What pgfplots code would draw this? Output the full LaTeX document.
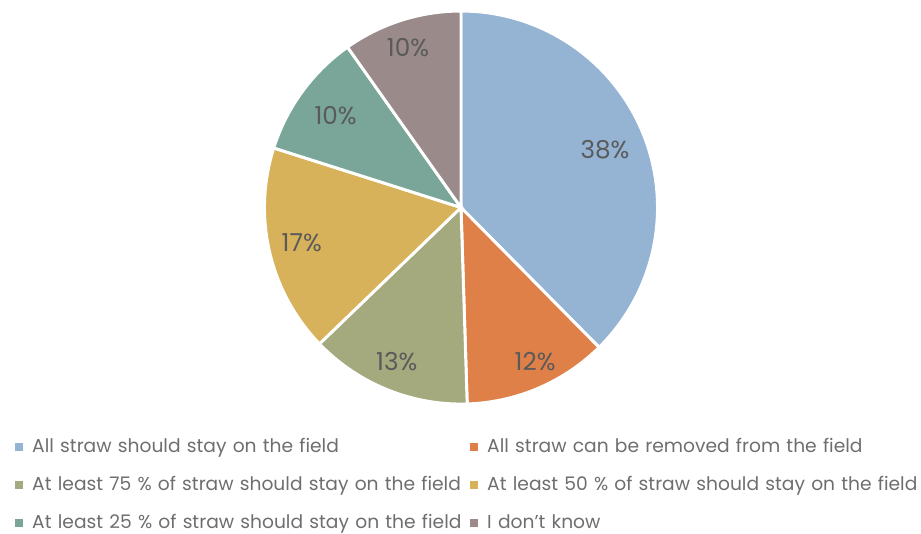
\documentclass[border=0pt]{standalone}
\usepackage{fontspec}
\setmainfont{Poppins}
\usepackage{pgfplots}
\pgfplotsset{compat=1.18}
\usepgfplotslibrary{polar}
\definecolor{cA}{HTML}{95B3D3}
\definecolor{cB}{HTML}{DF8049}
\definecolor{cC}{HTML}{A4AA7E}
\definecolor{cD}{HTML}{D8B25B}
\definecolor{cE}{HTML}{79A699}
\definecolor{cF}{HTML}{9A8B8A}
\definecolor{legtext}{HTML}{6E6E6E}
\definecolor{labtext}{HTML}{5A5A5A}
% shares in percent, clockwise from the top
\def\pA{37.6}\def\pB{11.9}\def\pC{13.3}\def\pD{17.1}\def\pE{10.3}\def\pF{9.8}
\begin{document}
\begin{tikzpicture}[x=1pt,y=1pt]
\pgfmathsetmacro{\aA}{90-3.6*\pA}
\pgfmathsetmacro{\aB}{\aA-3.6*\pB}
\pgfmathsetmacro{\aC}{\aB-3.6*\pC}
\pgfmathsetmacro{\aD}{\aC-3.6*\pD}
\pgfmathsetmacro{\aE}{\aD-3.6*\pE}
\pgfmathsetmacro{\aF}{\aE-3.6*\pF}
\path[use as bounding box] (0,0) rectangle (690.75,399.75);
\begin{polaraxis}[
  at={(345.75pt,244.1pt)}, anchor=center,
  width=294.75pt, height=294.75pt, scale only axis,
  ymin=0, ymax=1, hide axis, clip=false,
  legend columns=2,
  legend image code/.code={\path[#1,draw=none] (0pt,-3pt) rectangle (6pt,3pt);},
  legend style={at={(axis description cs:-0.6349,-0.0880)}, anchor=north west,
    draw=none, fill=none, inner sep=0pt, row sep=16pt,
    font=\fontsize{14}{16}\selectfont, text=legtext,
    cells={anchor=west},
    nodes={inner sep=0pt, text height=10pt, text depth=2.5pt, text width=326pt, align=left},
    /tikz/every odd column/.append style={column sep=6.75pt},
    /tikz/every even column/.append style={column sep=2.5pt}},
]
\addplot[fill=cA, draw=white, line width=2.2pt, domain=\aA:90, samples=120] {1} -- (axis cs:0,0) -- cycle;
\addlegendentry{All straw should stay on the field}
\addplot[fill=cB, draw=white, line width=2.2pt, domain=\aB:\aA, samples=60] {1} -- (axis cs:0,0) -- cycle;
\addlegendentry{All straw can be removed from the field}
\addplot[fill=cC, draw=white, line width=2.2pt, domain=\aC:\aB, samples=60] {1} -- (axis cs:0,0) -- cycle;
\addlegendentry{At least 75 \% of straw should stay on the field}
\addplot[fill=cD, draw=white, line width=2.2pt, domain=\aD:\aC, samples=60] {1} -- (axis cs:0,0) -- cycle;
\addlegendentry{At least 50 \% of straw should stay on the field}
\addplot[fill=cE, draw=white, line width=2.2pt, domain=\aE:\aD, samples=60] {1} -- (axis cs:0,0) -- cycle;
\addlegendentry{At least 25 \% of straw should stay on the field}
\addplot[fill=cF, draw=white, line width=2.2pt, domain=\aF:\aE, samples=60] {1} -- (axis cs:0,0) -- cycle;
\addlegendentry{I don’t know}
\addplot[draw=none, mark=none, forget plot, point meta=explicit symbolic,
  nodes near coords, nodes near coords style={anchor=center, text=labtext, font=\fontsize{18.5}{21}\selectfont}]
  coordinates {(21.9,0.79) [38\%] (-64.3,0.87) [12\%] (-112.6,0.85) [13\%]
               (192.4,0.83) [17\%] (143.9,0.79) [10\%] (108.3,0.86) [10\%]};
\end{polaraxis}
\end{tikzpicture}
\end{document}
